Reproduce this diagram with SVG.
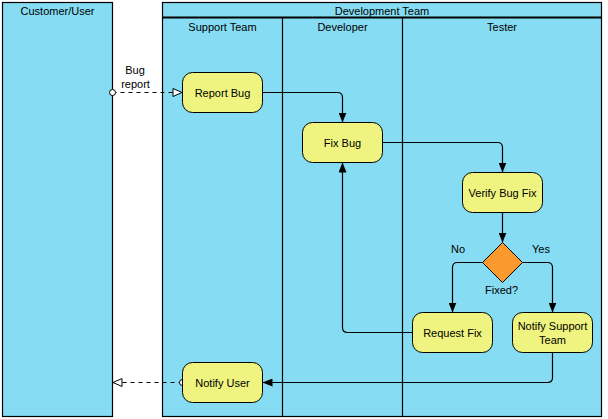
<svg xmlns="http://www.w3.org/2000/svg" width="608" height="419" viewBox="0 0 608 419">
<style>
.pool{fill:#86DCF3;stroke:#000;stroke-width:1.2}
.lane{fill:none;stroke:#000;stroke-width:1.2}
.task{fill:#EEF47F;stroke:#000;stroke-width:1}
.gw{fill:#FA9A2E;stroke:#000;stroke-width:1}
.t{font-family:"Liberation Sans",Arial,sans-serif;font-size:11px;fill:#000;text-anchor:middle}
.seq{fill:none;stroke:#000;stroke-width:1.2}
.msg{fill:none;stroke:#000;stroke-width:1;stroke-dasharray:4,4}
.dot{fill:#fff;stroke:#000;stroke-width:1}
</style>
<defs>
<marker id="fill" viewBox="0 0 10 8" refX="10" refY="4" markerWidth="10" markerHeight="8" markerUnits="userSpaceOnUse" orient="auto">
<path d="M0,0 L10,4 L0,8 Z" fill="#000"/>
</marker>
<marker id="hollow" viewBox="-1 -1 11 10" refX="9.5" refY="4" markerWidth="11" markerHeight="10" markerUnits="userSpaceOnUse" orient="auto">
<path d="M0,0 L9,4 L0,8 Z" fill="#fff" stroke="#000" stroke-width="1"/>
</marker>
</defs>
<g id="pool-customer">
<rect class="pool" x="2.5" y="2.5" width="110" height="414"/>
<text class="t" x="57.5" y="15">Customer/User</text>
</g>
<g id="pool-dev">
<rect class="pool" x="162.5" y="2.5" width="439" height="414"/>
<line class="lane" x1="162.5" y1="17.5" x2="601.5" y2="17.5" style="stroke-width:1.8"/>
<text class="t" x="382" y="15">Development Team</text>
</g>
<g id="lane-support">
<text class="t" x="222.5" y="31">Support Team</text>
</g>
<g id="lane-developer">
<line class="lane" x1="282.5" y1="17.5" x2="282.5" y2="416.5"/>
<text class="t" x="342.5" y="31">Developer</text>
</g>
<g id="lane-tester">
<line class="lane" x1="402.5" y1="17.5" x2="402.5" y2="416.5"/>
<text class="t" x="502" y="31">Tester</text>
</g>
<g id="connectors">
<path class="msg" d="M112.5,92.5 H182.5" marker-end="url(#hollow)"/>
<circle class="dot" cx="112.5" cy="92.5" r="3"/>
<text class="t" x="135" y="74">Bug</text>
<text class="t" x="135.5" y="88">report</text>
<path class="seq" d="M262.5,92.5 H337.5 Q342.5,92.5 342.5,97.5 V122.5" marker-end="url(#fill)"/>
<path class="seq" d="M382.5,142.5 H497.5 Q502.5,142.5 502.5,147.5 V172.5" marker-end="url(#fill)"/>
<path class="seq" d="M502.5,212.5 V242.5" marker-end="url(#fill)"/>
<path class="seq" d="M482.5,262.5 H457.5 Q452.5,262.5 452.5,267.5 V312.5" marker-end="url(#fill)"/>
<text class="t" x="458" y="253">No</text>
<path class="seq" d="M522.5,262.5 H547.5 Q552.5,262.5 552.5,267.5 V312.5" marker-end="url(#fill)"/>
<text class="t" x="541" y="253">Yes</text>
<path class="seq" d="M412.5,332.5 H347.5 Q342.5,332.5 342.5,327.5 V162.5" marker-end="url(#fill)"/>
<path class="seq" d="M552.5,352.5 V377.5 Q552.5,382.5 547.5,382.5 H262.5" marker-end="url(#fill)"/>
<path class="msg" d="M182.5,382.5 H112.5" marker-end="url(#hollow)"/>
<circle class="dot" cx="182.5" cy="382.5" r="3"/>
</g>
<g id="report-bug">
<rect class="task" x="182.5" y="72.5" width="80" height="40" rx="10"/>
<text class="t" x="222.5" y="96.5">Report Bug</text>
</g>
<g id="fix-bug">
<rect class="task" x="302.5" y="122.5" width="80" height="40" rx="10"/>
<text class="t" x="342.5" y="146.5">Fix Bug</text>
</g>
<g id="verify-bug-fix">
<rect class="task" x="462.5" y="172.5" width="80" height="40" rx="10"/>
<text class="t" x="502.5" y="196.5">Verify Bug Fix</text>
</g>
<g id="gateway-fixed">
<path class="gw" d="M502.5,242.5 L522.5,262.5 L502.5,282.5 L482.5,262.5 Z"/>
<text class="t" x="501.5" y="293.5">Fixed?</text>
</g>
<g id="request-fix">
<rect class="task" x="412.5" y="312.5" width="80" height="40" rx="10"/>
<text class="t" x="452.5" y="336.5">Request Fix</text>
</g>
<g id="notify-support-team">
<rect class="task" x="512.5" y="312.5" width="80" height="40" rx="10"/>
<text class="t" x="552.5" y="329.5">Notify Support</text>
<text class="t" x="552.5" y="344">Team</text>
</g>
<g id="notify-user">
<rect class="task" x="182.5" y="362.5" width="80" height="40" rx="10"/>
<text class="t" x="222.5" y="386.5">Notify User</text>
</g>
</svg>
